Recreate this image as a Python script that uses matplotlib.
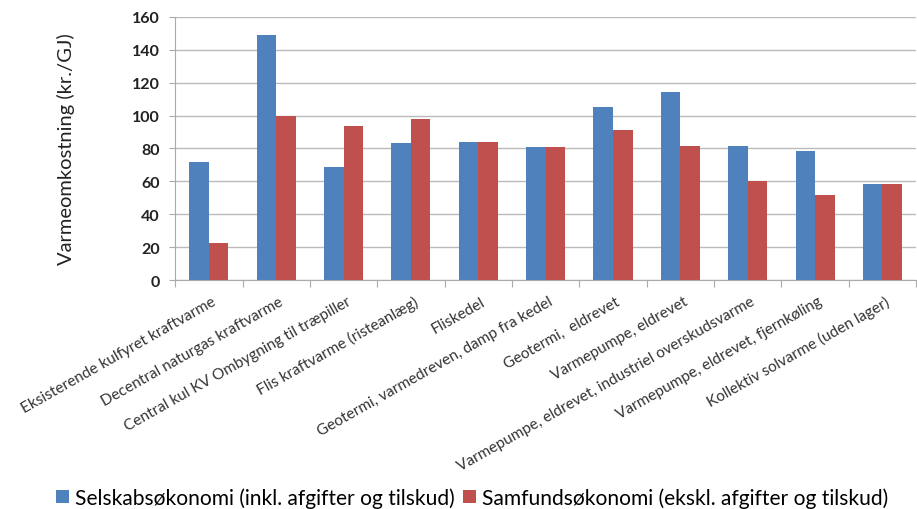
import matplotlib
matplotlib.use("Agg")
import matplotlib.pyplot as plt
import numpy as np

categories = [
    "Eksisterende kulfyret kraftvarme",
    "Decentral naturgas kraftvarme",
    "Central kul KV Ombygning til træpiller",
    "Flis kraftvarme (risteanlæg)",
    "Fliskedel",
    "Geotermi, varmedreven, damp fra kedel",
    "Geotermi,  eldrevet",
    "Varmepumpe, eldrevet",
    "Varmepumpe, eldrevet, industriel overskudsvarme",
    "Varmepumpe, eldrevet, fjernkøling",
    "Kollektiv solvarme (uden lager)",
]
selskab = [71.5, 149.2, 68.8, 83.6, 84.0, 80.8, 105.3, 114.2, 81.6, 78.5, 58.3]
samfund = [22.3, 99.8, 93.5, 97.6, 84.0, 80.8, 91.3, 81.6, 60.1, 51.6, 58.3]
series_names = [
    "Selskabsøkonomi (inkl. afgifter og tilskud)",
    "Samfundsøkonomi (ekskl. afgifter og tilskud)",
]
yticks = [0, 20, 40, 60, 80, 100, 120, 140, 160]

plt.rcParams["font.family"] = ["Lato", "DejaVu Sans"]

fig = plt.figure(figsize=(9.17, 5.10), dpi=100)
ax = fig.add_axes([0.191, 0.449, 0.808, 0.516])

x = np.arange(len(categories))
w = 0.29
blue = "#4F81BD"
red = "#C0504D"
ax.bar(x - w / 2, selskab, w, color=blue, label=series_names[0], zorder=3)
ax.bar(x + w / 2, samfund, w, color=red, label=series_names[1], zorder=3)

ax.set_xlim(-0.5, len(categories) - 0.5)
ax.set_ylim(0, 160)
ax.set_yticks(yticks)
ax.set_yticklabels([str(v) for v in yticks], fontsize=11.5, fontweight="bold", color="#222222")
ax.yaxis.grid(True, color="#BBBBBB", linewidth=1.0, zorder=0)
ax.set_axisbelow(True)

for s in ["top", "right"]:
    ax.spines[s].set_visible(False)
ax.spines["left"].set_color("#AAAAAA")
ax.spines["bottom"].set_color("#AAAAAA")
ax.tick_params(axis="y", length=4, color="#AAAAAA", pad=7)

# category boundaries get the tick marks, names sit at the centres
ax.set_xticks(np.arange(len(categories) + 1) - 0.5)
ax.set_xticklabels([])
ax.tick_params(axis="x", length=5, color="#AAAAAA")
for i, name in enumerate(categories):
    ax.annotate(name, xy=(i + 0.04, 0), xycoords=("data", "axes fraction"),
                xytext=(0, -10), textcoords="offset points",
                rotation=29.5, rotation_mode="anchor", ha="right", va="top",
                fontsize=11.1, color="#333333")

ax.set_ylabel("Varmeomkostning (kr./GJ)", fontsize=14.5, color="#222222",
              va="center")
ax.yaxis.set_label_coords(-0.148, 0.5)

fig.legend(loc="lower center", bbox_to_anchor=(0.515, -0.035), ncol=2, frameon=False,
           fontsize=15.1, handlelength=0.6, handleheight=0.6, handletextpad=0.3,
           columnspacing=0.4)

fig.savefig("out.png", dpi=100)
